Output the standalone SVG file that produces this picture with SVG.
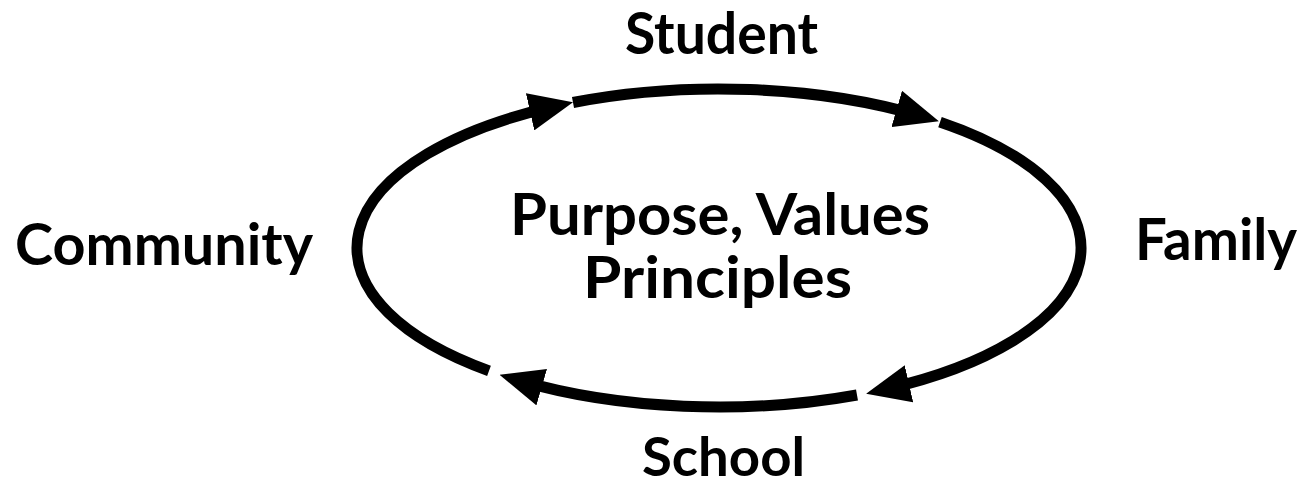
<svg xmlns="http://www.w3.org/2000/svg" width="1304" height="488" viewBox="0 0 1304 488">
  <style>
    .lbl { font-family: Lato, "Open Sans", "Liberation Sans", sans-serif; font-weight: bold; font-size: 57px; fill: #000; }
    .loop { fill: none; stroke: #000; stroke-width: 11; stroke-linecap: butt; }
  </style>
  <defs>
    <marker id="arr" markerUnits="userSpaceOnUse" markerWidth="44" markerHeight="38" viewBox="0 0 44 38" refX="24" refY="19" orient="auto">
      <path d="M0,0 L44,19 L0,38 Z" fill="#000"/>
    </marker>
  </defs>
  <rect width="1304" height="488" fill="#fff"/>
  <g id="connectors">
    <path class="loop" marker-end="url(#arr)" d="M489,370.8 A362,159 0 0 1 553.5,106.6"/>
    <path class="loop" marker-end="url(#arr)" d="M573,102.5 A362,159 0 0 1 919.7,115.7"/>
    <path class="loop" marker-end="url(#arr)" d="M940,122.1 A362,159 0 0 1 885.6,389.2"/>
    <path class="loop" marker-end="url(#arr)" d="M857,395 A362,159 0 0 1 518.7,380.4"/>
  </g>
  <g id="student"><text class="lbl" x="625" y="54" textLength="193" lengthAdjust="spacingAndGlyphs">Student</text></g>
  <g id="family"><text class="lbl" x="1135" y="260" textLength="162" lengthAdjust="spacingAndGlyphs">Family</text></g>
  <g id="school"><text class="lbl" x="642" y="476" style="font-size:54px" textLength="163" lengthAdjust="spacingAndGlyphs">School</text></g>
  <g id="community"><text class="lbl" x="15" y="265" textLength="298" lengthAdjust="spacingAndGlyphs">Community</text></g>
  <g id="center">
    <text class="lbl" x="510" y="235" textLength="420" lengthAdjust="spacingAndGlyphs">Purpose, Values</text>
    <text class="lbl" x="583" y="298" textLength="269" lengthAdjust="spacingAndGlyphs">Principles</text>
  </g>
</svg>
